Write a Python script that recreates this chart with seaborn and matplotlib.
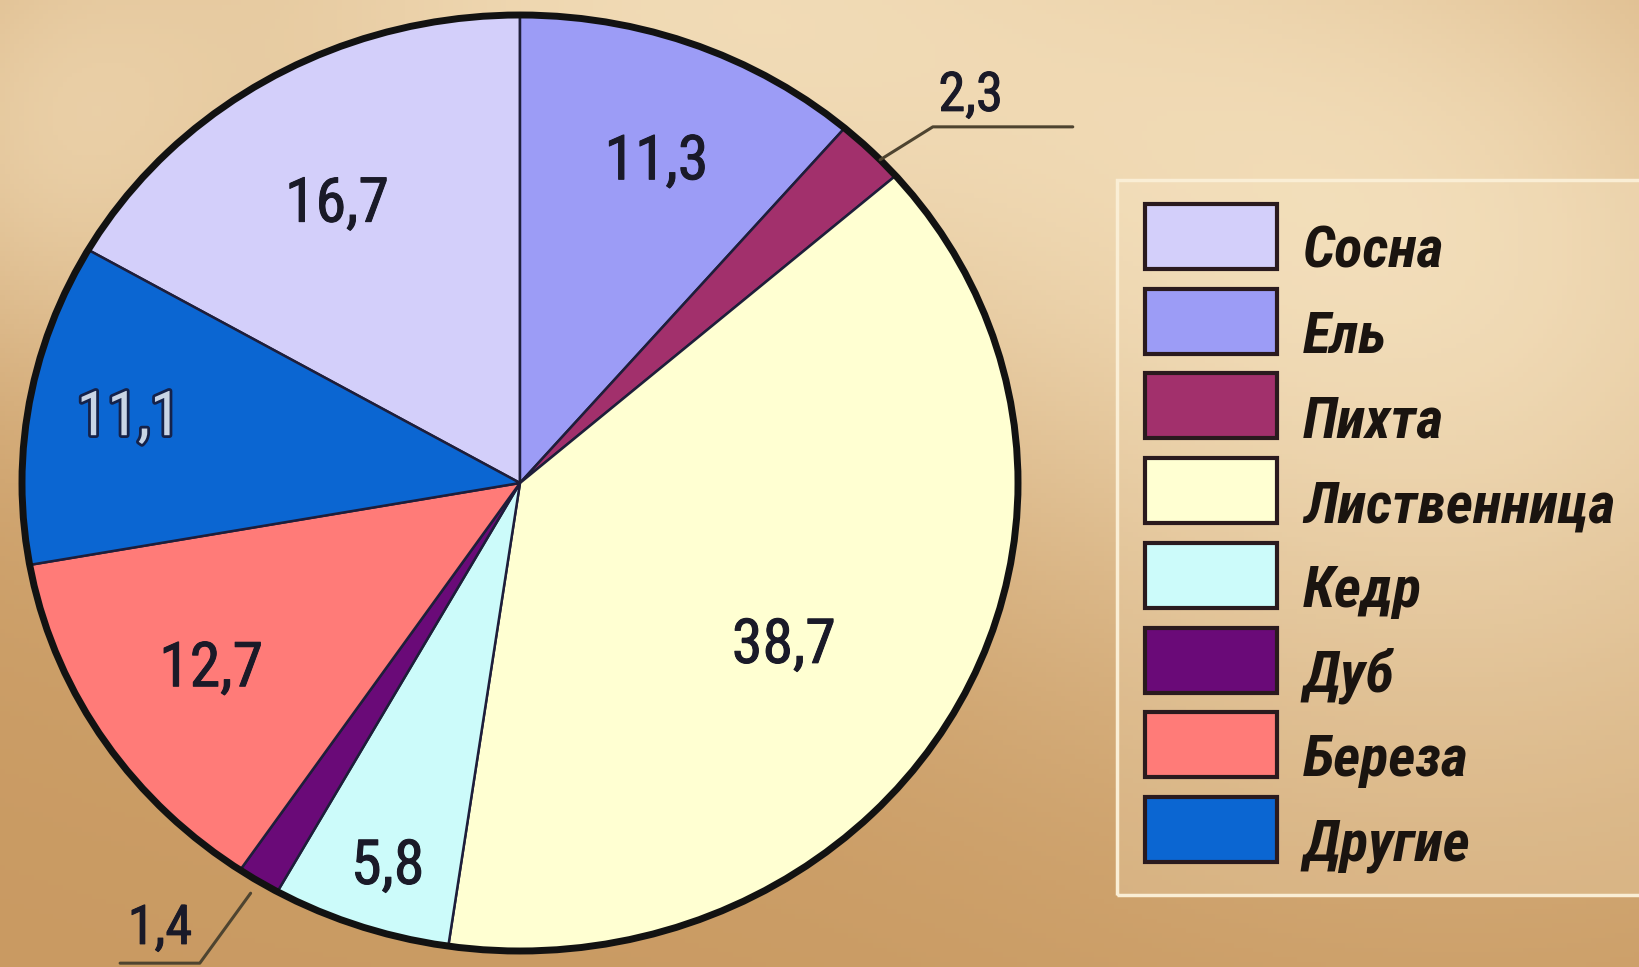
import numpy as np
import matplotlib
matplotlib.use('Agg')
import matplotlib.pyplot as plt
import seaborn as sns
from matplotlib.patches import Circle, Rectangle
from matplotlib.colors import to_rgb
from matplotlib import font_manager as fm
from matplotlib.font_manager import FontProperties
import matplotlib.patheffects as pe

# ---- data ----
species = ['Сосна', 'Ель', 'Пихта', 'Лиственница', 'Кедр', 'Дуб', 'Береза', 'Другие']
shares = [16.7, 11.3, 2.3, 38.7, 5.8, 1.4, 12.7, 11.1]
value_labels = ['16,7', '11,3', '2,3', '38,7', '5,8', '1,4', '12,7', '11,1']
colors = ['#D3CFFA', '#9C9CF6', '#A2306C', '#FFFFD2', '#CCFBFA', '#6A0A78', '#FF7B78', '#0B66D2']

sns.set_theme(style='white')
plt.rcParams['font.family'] = ['DejaVu Sans']

# ---- pick a condensed font if one is installed ----
prefs = ['Roboto Condensed', 'Liberation Sans Narrow', 'Open Sans Condensed',
         'Noto Sans Condensed', 'DejaVu Sans Condensed']
entries = fm.fontManager.ttflist
cond = {}
for e in entries:
    if e.stretch == 'condensed' or 'Condensed' in e.name or 'Narrow' in e.name:
        cond.setdefault(e.name, e.stretch)
family, stretch = 'DejaVu Sans', 'normal'
for p in prefs:
    if p in cond:
        family, stretch = p, cond[p]
        break
if family == 'DejaVu Sans' and cond:
    family, stretch = sorted(cond.items())[0]


def fprops(size, weight='normal', style='normal'):
    return FontProperties(family=[family, 'DejaVu Sans'], stretch=stretch,
                          weight=weight, style=style, size=size)


W, H = 1639, 967
fig = plt.figure(figsize=(W / 100, H / 100), dpi=100)
renderer = fig.canvas.get_renderer()


def measure(s, fp):
    t = fig.text(0, 0, s, fontproperties=fp)
    bb = t.get_window_extent(renderer)
    t.remove()
    return bb.width


def fit_size(s, target_w, max_size, weight='normal', style='normal'):
    w = measure(s, fprops(40, weight, style))
    return min(max_size, 40 * target_w / w)


# ---- background gradient ----
bg = fig.add_axes([0, 0, 1, 1], zorder=0)
yy, xx = np.mgrid[0:1:200j, 0:1:340j]
L = (0.85 * np.exp(-(((xx - 0.40) / 0.42) ** 2 + ((yy - 0.0) / 0.5) ** 2))
     + 0.70 * np.exp(-(((xx - 0.90) / 0.30) ** 2 + ((yy - 0.30) / 0.50) ** 2))
     + 0.35 * np.exp(-(((xx - 0.02) / 0.12) ** 2 + ((yy - 0.15) / 0.25) ** 2)))
L = np.clip(L, 0, 1)
light = np.array(to_rgb('#F6E3C0'))
dark = np.array(to_rgb('#C99A62'))
img = dark + (light - dark) * L[..., None]
bg.imshow(img, aspect='auto', extent=[0, 1, 0, 1], origin='upper')
bg.axis('off')

# ---- pie ----
cx, cy, rx, ry = 520, 483, 498, 468
pad = 1.05
ax = fig.add_axes([(cx - pad * rx) / W, (H - cy - pad * ry) / H,
                   2 * pad * rx / W, 2 * pad * ry / H], zorder=1)
start = 90 + shares[0] * 3.6
wedges, _ = ax.pie(shares, colors=colors, startangle=start, counterclock=False,
                   wedgeprops=dict(edgecolor='#1E1E3A', linewidth=1.8))
ax.set_aspect('auto')
ax.set_xlim(-pad, pad)
ax.set_ylim(-pad, pad)
ax.patch.set_alpha(0)
ax.axis('off')
ax.add_patch(Circle((0, 0), 1, fill=False, lw=5, ec='#121212', zorder=5))

num_col = '#1A1A28'
num_size = fit_size('16,7', 104, 54)
small_size = num_size * 0.88
thick = [pe.withStroke(linewidth=0.7, foreground=num_col)]
label_r = [0.71, 0.75, None, 0.627, 0.85, None, 0.73, 0.80]
label_da = [1.1, -1.1, 0, -3.7, 0.5, 0, -1.1, -1.0]
for w, lab, r, da in zip(wedges, value_labels, label_r, label_da):
    if r is None:
        continue
    mid = np.deg2rad((w.theta1 + w.theta2) / 2 + da)
    t = ax.text(r * np.cos(mid), r * np.sin(mid), lab, zorder=6,
                fontproperties=fprops(num_size), color=num_col,
                ha='center', va='center_baseline', path_effects=thick)
    if lab == '11,1':
        t.set_color('#C9D5E6')
        t.set_path_effects([pe.withStroke(linewidth=4, foreground='#15224A')])

# external labels with leader lines
lead_col = '#4E4430'
w = wedges[2]
mid = np.deg2rad((w.theta1 + w.theta2) / 2 - 1.5)
ax.plot([np.cos(mid), 0.829, 1.11], [np.sin(mid), 0.761, 0.761], color=lead_col, lw=2.2,
        zorder=6, clip_on=False)
ax.text(0.905, 0.84, value_labels[2], zorder=6, fontproperties=fprops(small_size),
        color=num_col, ha='center', va='center_baseline', path_effects=thick)
w = wedges[5]
mid = np.deg2rad((w.theta1 + w.theta2) / 2)
ax.plot([1.03 * np.cos(mid), -0.643, -0.803], [1.03 * np.sin(mid), -1.026, -1.026],
        color=lead_col, lw=2.2, zorder=6, clip_on=False)
ax.text(-0.723, -0.94, value_labels[5], zorder=6, fontproperties=fprops(small_size),
        color=num_col, ha='center', va='center_baseline', path_effects=thick)

# ---- legend ----
def fx(px):
    return px / W


def fy(py):
    return (H - py) / H


fig.patches.append(Rectangle((fx(1117), fy(895)), fx(1660) - fx(1117), fy(180) - fy(895),
                             transform=fig.transFigure, facecolor='#F8E8C8', alpha=0.25,
                             edgecolor='none', zorder=2))
fig.patches.append(Rectangle((fx(1117), fy(895)), fx(1660) - fx(1117), fy(180) - fy(895),
                             transform=fig.transFigure, fill=False,
                             edgecolor='#FAEED5', lw=2.5, zorder=2))
leg_size = fit_size('Лиственница', 312, 50, 'bold', 'italic')
for i, (name, col) in enumerate(zip(species, colors)):
    ctr = 237 + i * 84.7
    fig.patches.append(Rectangle((fx(1145), fy(ctr + 32)), fx(132), 65 / H,
                                 transform=fig.transFigure, facecolor=col,
                                 edgecolor='#2A1A1E', lw=3, zorder=3))
    fig.text(fx(1303), fy(ctr + 31), name, fontproperties=fprops(leg_size, 'bold', 'italic'),
             color='#1A1410', ha='left', va='baseline', zorder=4)

fig.savefig('out.png', dpi=100)
